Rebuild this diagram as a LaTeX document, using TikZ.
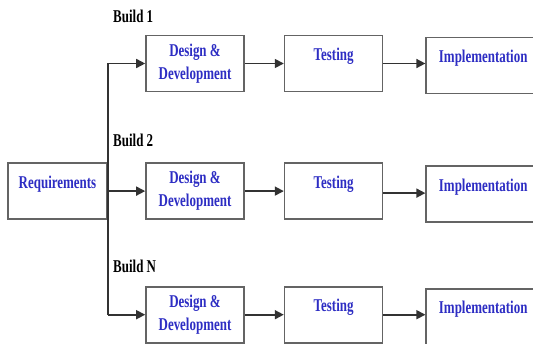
\documentclass[tikz,border=0pt]{standalone}
\usepackage{fontspec}
\setmainfont{Liberation Serif}
\newfontfamily\narrowserif[FakeStretch=0.72]{Liberation Serif}
\usetikzlibrary{arrows.meta, positioning}
\definecolor{phasetext}{RGB}{45,45,195}
\definecolor{phaseline}{RGB}{100,100,100}
\definecolor{arrowline}{RGB}{50,50,50}

\begin{document}
\begin{tikzpicture}[x=1pt, y=-1pt, node distance=39pt]
    \tikzstyle{phase} = [rectangle, draw=phaseline, line width=1.6pt, minimum width=98pt, minimum height=56pt, text centered, align=center, inner sep=0pt, text=phasetext, font=\narrowserif\bfseries\fontsize{18}{23}\selectfont]
    \tikzstyle{oneline} = [text depth=18pt]
    \tikzstyle{buildlabel} = [anchor=west, inner sep=0pt, font=\narrowserif\bfseries\fontsize{18}{22}\selectfont]
    \tikzstyle{arrow} = [line width=1.6pt, draw=arrowline, -{Triangle[length=9pt, width=9pt]}]

    \clip (0,0) rectangle (533,343);

    \node (req) [phase, oneline, minimum width=99pt] at (57.5,191) {Requirements};

    % Build 1
    \node (des1) [phase] at (195,63.5) {Design \&\\Development};
    \node (test1) [phase, oneline, right=of des1] {Testing};
    \node (impl1) [phase, oneline, minimum width=114pt, right=42pt of test1, yshift=-2pt] {Implementation};
    \node (build1) [buildlabel] at (113,16) {Build 1};

    % Build 2
    \node (des2) [phase, below=70pt of des1] {Design \&\\Development};
    \node (test2) [phase, oneline, right=of des2] {Testing};
    \node (impl2) [phase, oneline, minimum width=114pt, right=42pt of test2, yshift=-3pt] {Implementation};
    \node (build2) [buildlabel] at (113,140) {Build 2};

    % Build N
    \node (des3) [phase, below=66pt of des2] {Design \&\\Development};
    \node (test3) [phase, oneline, right=of des3] {Testing};
    \node (impl3) [phase, oneline, minimum width=114pt, right=42pt of test3, yshift=-2pt] {Implementation};
    \node (build3) [buildlabel] at (113,266) {Build N};

    % Arrows
    \draw [arrow] (req.east |- des3) |- (des1.west);
    \draw [arrow] (req.east |- des2) -- (des2.west);
    \draw [arrow] (req.east |- des3) -- (des3.west);
    \draw [arrow] (des1) -- (test1);
    \draw [arrow] (des2) -- (test2);
    \draw [arrow] (des3) -- (test3);
    \draw [arrow] (test1.east) -- (test1.east -| impl1.west);
    \draw [arrow] (test2.east) ++(0,2) -- ([yshift=-2pt]test2.east -| impl2.west);
    \draw [arrow] (test3.east) -- (test3.east -| impl3.west);
\end{tikzpicture}
\end{document}
